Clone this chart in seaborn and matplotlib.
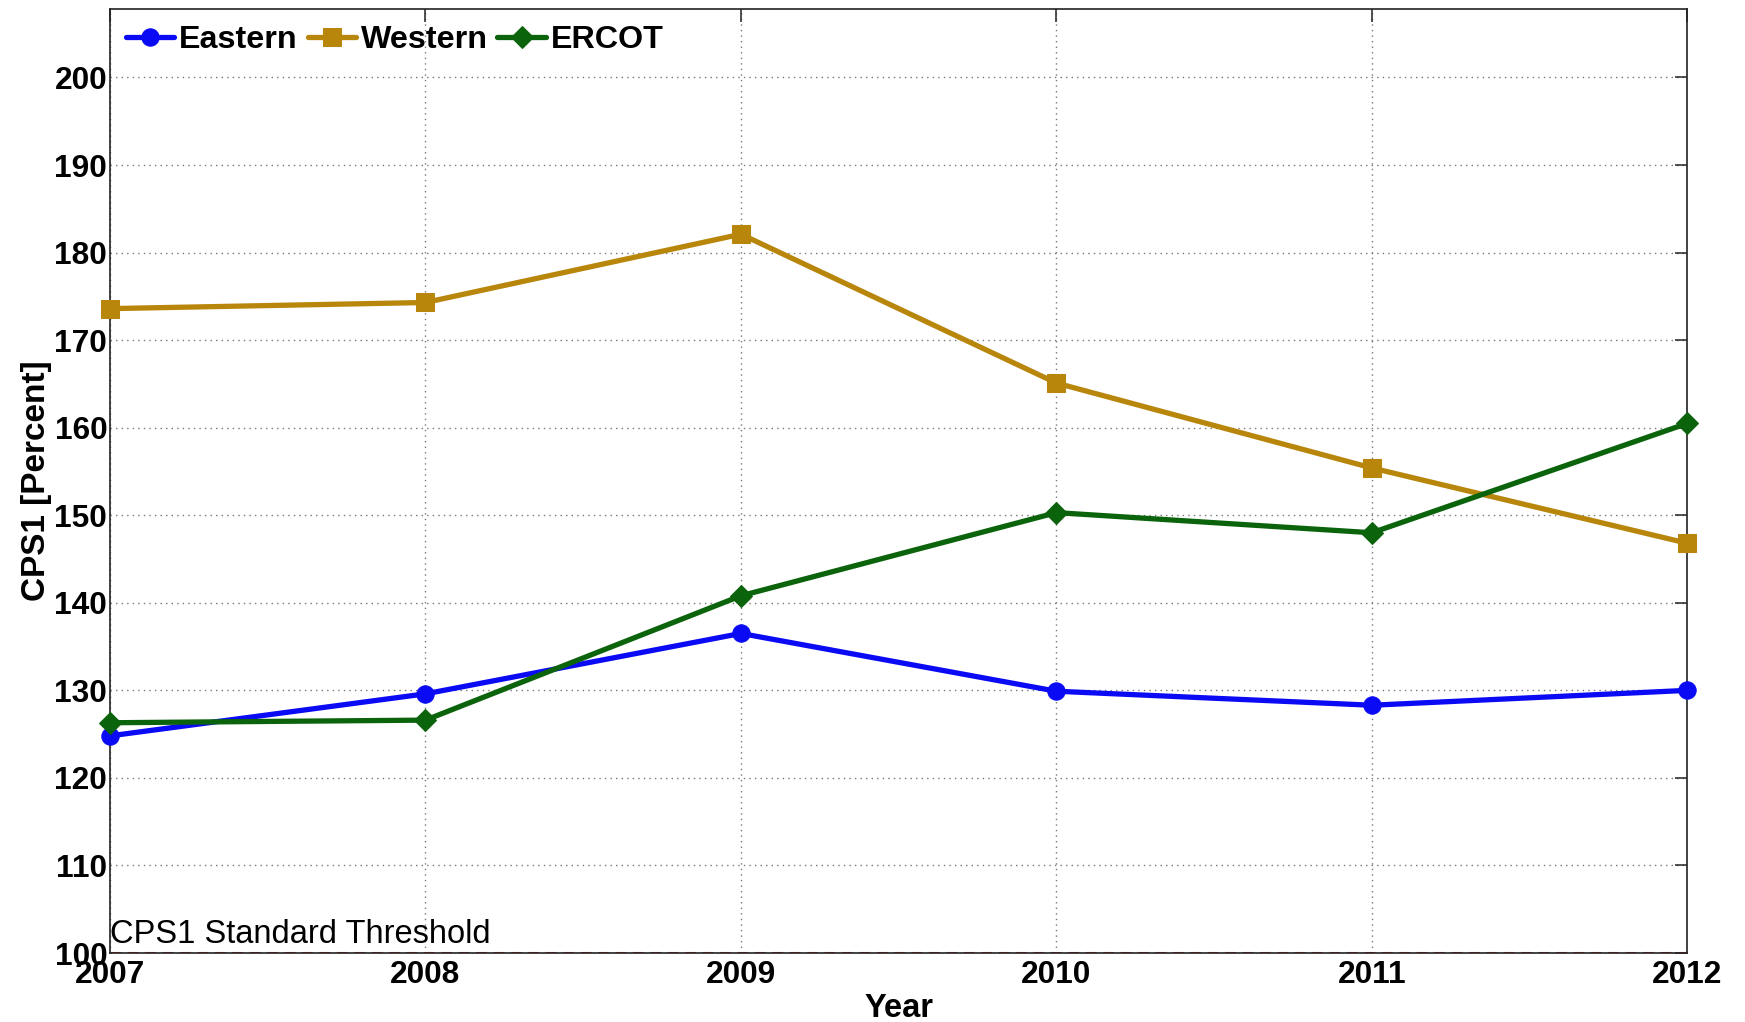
import matplotlib
matplotlib.use("Agg")
import matplotlib.pyplot as plt
import seaborn as sns
import pandas as pd

years = [2007, 2008, 2009, 2010, 2011, 2012]
eastern = [124.8, 129.6, 136.5, 129.9, 128.3, 130.0]
western = [173.6, 174.3, 182.1, 165.1, 155.4, 146.8]
ercot = [126.3, 126.6, 140.8, 150.3, 148.0, 160.5]
threshold = 100
y_ticks = [100, 110, 120, 130, 140, 150, 160, 170, 180, 190, 200]

series_names = ["Eastern", "Western", "ERCOT"]
series_values = [eastern, western, ercot]
series_colors = ["#0a0af5", "#b8860b", "#0b640b"]
series_markers = ["o", "s", "D"]

sns.set_style("white")
plt.rcParams["font.family"] = ["Liberation Sans", "DejaVu Sans"]
plt.rcParams["text.color"] = "black"
plt.rcParams["axes.labelcolor"] = "black"
plt.rcParams["xtick.color"] = "black"
plt.rcParams["ytick.color"] = "black"

fig = plt.figure(figsize=(17.45, 10.22), dpi=100)
ax = fig.add_axes([0.063, 0.0675, 0.904, 0.9235])

for name, vals, col, mk in zip(series_names, series_values, series_colors, series_markers):
    df = pd.DataFrame({"Year": years, "CPS1": vals})
    sns.lineplot(data=df, x="Year", y="CPS1", ax=ax, color=col, marker=mk,
                 markersize=12.5 if mk != "D" else 11, markeredgecolor=col,
                 linewidth=3.8, label=name, clip_on=False, zorder=3)

ax.axhline(threshold, color="#d62020", linestyle=(0, (3.5, 2.2)), linewidth=2.2, zorder=2)
ax.text(years[0], threshold + 0.3, "CPS1 Standard Threshold", fontsize=23.5,
        ha="left", va="bottom", color="black")

ax.set_xlim(years[0], years[-1])
ax.set_ylim(100, 207.8)
ax.set_xticks(years)
ax.set_yticks(y_ticks)
ax.set_xticklabels([str(y) for y in years], fontsize=22.8, fontweight="bold")
ax.set_yticklabels([str(v) for v in y_ticks], fontsize=22.8, fontweight="bold")
ax.tick_params(direction="in", length=9, width=1.2, top=True, right=True,
               color="#333333", pad=2)
ax.tick_params(axis="x", pad=5)

ax.grid(True, linestyle=(0, (1, 3)), color="#777777", linewidth=1.0)
for sp in ax.spines.values():
    sp.set_color("#222222")
    sp.set_linewidth(1.2)

ax.set_xlabel("Year", fontsize=23.5, fontweight="bold", labelpad=2)
ax.set_ylabel("CPS1 [Percent]", fontsize=24, fontweight="bold", labelpad=2)

leg = ax.legend(loc="upper left", ncol=3, frameon=False, fontsize=23.2,
                handlelength=1.5, handletextpad=0.15, columnspacing=0.3,
                borderaxespad=0.3, borderpad=0.2)
for t in leg.get_texts():
    t.set_fontweight("bold")

fig.savefig("out.png", dpi=100)
